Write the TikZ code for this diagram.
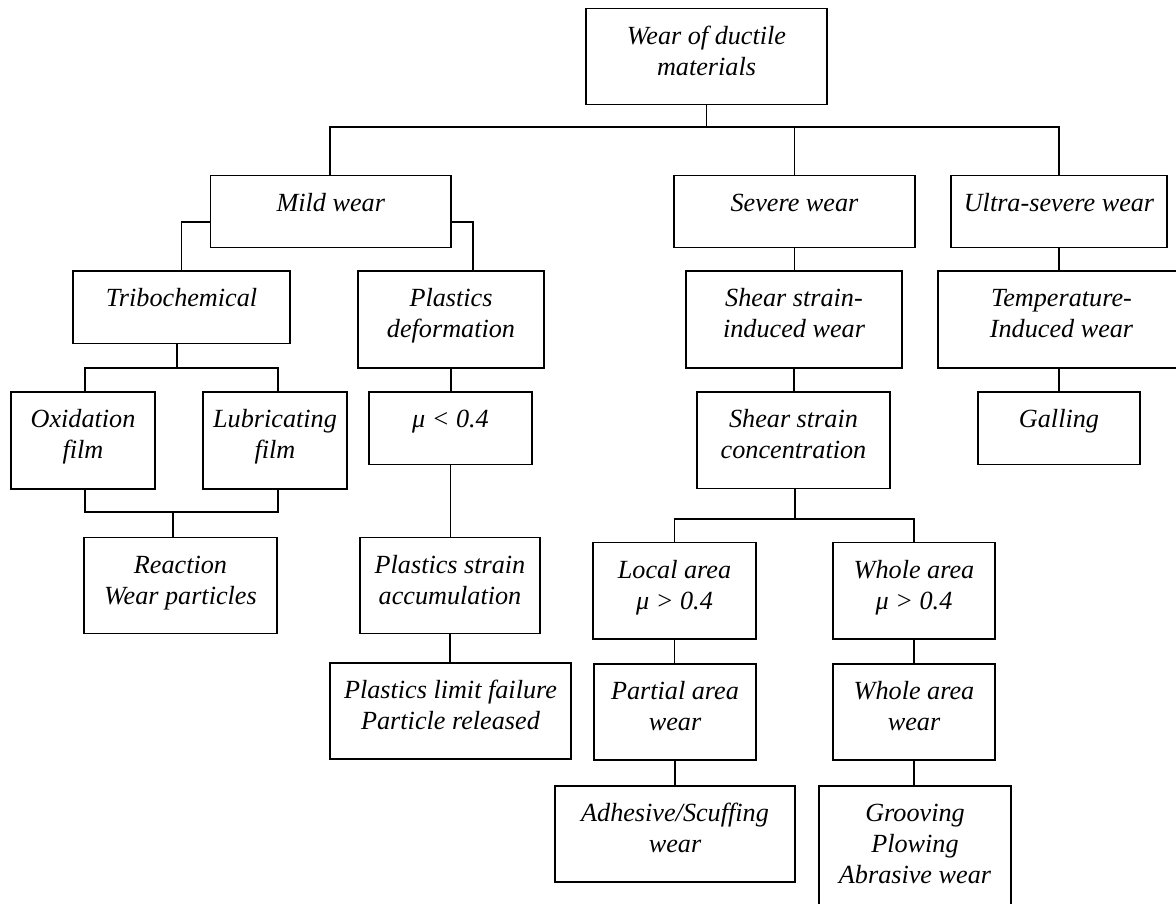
\documentclass[tikz,border=0pt]{standalone}
\usepackage{fontspec}
\setmainfont{Liberation Serif}
\newcommand\wbox[6]{%
  \node[wb] (#1) at (#2,#3) {\parbox[c][\dimexpr #5pt-#3pt\relax][t]{\dimexpr #4pt-#2pt\relax}{\centering\rule{0pt}{35.7pt}#6\par}};}
\tikzset{
  wb/.style={draw, line width=1.6pt, inner sep=0pt, outer sep=0pt, anchor=north west,
    font=\itshape\fontsize{26.2pt}{31pt}\selectfont},
  ln/.style={line width=1.6pt}
}
\begin{document}
\begin{tikzpicture}[x=1pt,y=-1pt]
\useasboundingbox (0,0) rectangle (1176,903);
\fill[white] (0,0) rectangle (1176,903);
\clip (0,0) rectangle (1176,903);
% boxes
\wbox{root}{586}{8.3}{827}{104.3}{Wear of ductile\\materials}
\wbox{mild}{210.5}{175.3}{451}{247.3}{Mild wear}
\wbox{severe}{674}{175.3}{915}{247.3}{Severe wear}
\wbox{ultra}{951}{175.3}{1167}{247.3}{Ultra-severe wear}
\wbox{tribo}{73}{271}{290}{343.3}{Tribochemical}
\wbox{pd}{358}{271}{544}{367.7}{Plastics\\deformation}
\wbox{ssi}{686}{271}{902}{367.7}{Shear strain-\\induced wear}
\wbox{temp}{938}{271}{1185}{367.7}{Temperature-\\Induced wear}
\wbox{ox}{11}{392}{155}{488.7}{Oxidation\\film}
\wbox{lub}{203}{392}{347}{488.7}{Lubricating\\film}
\wbox{mu}{369}{392}{532}{464.3}{μ < 0.4}
\wbox{ssc}{697}{392}{890}{488.3}{Shear strain\\concentration}
\wbox{gall}{978}{392}{1140}{464.3}{Galling}
\wbox{reac}{84}{537.3}{277}{633.3}{Reaction\\Wear particles}
\wbox{psa}{360}{537.3}{540}{633.3}{Plastics strain\\accumulation}
\wbox{local}{593}{542.3}{756}{639}{Local area\\μ > 0.4}
\wbox{whole}{833}{542.3}{995}{639}{Whole area\\μ > 0.4}
\wbox{plf}{330}{662.7}{571}{758.7}{Plastics limit failure\\Particle released}
\wbox{paw}{594}{663.7}{756}{759.7}{Partial area\\wear}
\wbox{waw}{833}{663.7}{995}{759.7}{Whole area\\wear}
\wbox{adh}{555}{785.7}{795}{882}{Adhesive/Scuffing\\wear}
\wbox{groove}{819}{785.7}{1011}{920}{Grooving\\Plowing\\Abrasive wear}
% connectors
\coordinate (busA) at (0,127);
\draw[ln] (root.south) -- (root.south |- busA);
\draw[ln] (mild.north -| 330,0) |- (ultra.north |- busA) -- (ultra.north);
\draw[ln] (severe.north) -- (severe.north |- busA);
\draw[ln] (mild.west |- 0,222) -| (tribo.north);
\draw[ln] (mild.east |- 0,222) -| (pd.north -| 473,0);
\draw[ln] (tribo.south -| 177,0) -- (177,367.7);
\draw[ln] (ox.north -| 85,0) -- (85,367.7) -- (278,367.7) -- (lub.north -| 278,0);
\coordinate (busR) at (173,512);
\draw[ln] (ox.south -| 85,0) -- (85,512) -- (278,512) -- (lub.south -| 278,0);
\draw[ln] (busR) -- (reac.north -| busR);
\draw[ln] (pd.south) -- (mu.north -| pd.south);
\draw[ln] (mu.south) -- (psa.north -| mu.south);
\draw[ln] (psa.south) -- (plf.north -| psa.south);
\draw[ln] (severe.south) -- (ssi.north -| severe.south);
\draw[ln] (ssi.south) -- (ssc.north -| ssi.south);
\draw[ln] (ultra.south) -- (temp.north -| ultra.south);
\draw[ln] (gall.north) -- (temp.south -| gall.north);
\coordinate (busS) at (794.7,519);
\draw[ln] (ssc.south -| busS) -- (busS);
\draw[ln] (local.north) |- (whole.north |- busS) -- (whole.north);
\draw[ln] (local.south) -- (paw.north -| local.south);
\draw[ln] (paw.south) -- (adh.north -| paw.south);
\draw[ln] (whole.south) -- (waw.north -| whole.south);
\draw[ln] (waw.south) -- (groove.north -| waw.south);
\end{tikzpicture}
\end{document}
